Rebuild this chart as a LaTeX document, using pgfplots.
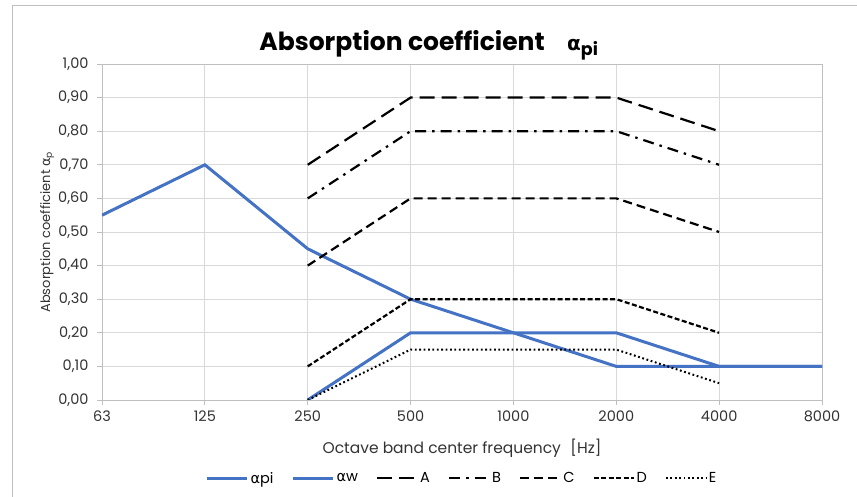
\documentclass[border=0pt]{standalone}
\usepackage{pgfplots}
\pgfplotsset{compat=1.18}
\usepackage{fontspec}
\setmainfont{Poppins}
\newfontfamily\gr{DejaVu Sans}
\definecolor{blu}{HTML}{4472C4}
\definecolor{grd}{HTML}{D9D9D9}
\definecolor{axc}{HTML}{BFBFBF}
\newcommand{\gap}{\rule{16pt}{0pt}}
\begin{document}
\begin{tikzpicture}
\begin{axis}[
  at={(0,0)}, anchor=south west,
  scale only axis, width=720pt, height=336pt,
  xmin=0, xmax=7, ymin=0, ymax=1,
  xtick={0,...,7},
  xticklabels={63,125,250,500,1000,2000,4000,8000},
  ytick={0,0.1,...,1.0},
  yticklabel style={xshift=-5pt, /pgf/number format/.cd, fixed, fixed zerofill, precision=2, use comma},
  /pgf/number format/assume math mode=true,
  ticklabel style={font=\fontsize{14.5}{16}\selectfont, text=black!80},
  xticklabel style={yshift=-2pt},
  grid=major, major grid style={grd, line width=0.9pt},
  axis line style={axc, line width=0.9pt},
  tick style={axc, line width=0.9pt},
  tick align=outside, major tick length=5pt,
  xtick pos=bottom, ytick pos=left,
  xlabel={Octave band center frequency\hspace{0.35em} [Hz]},
  ylabel={Absorption coefficient {\gr α}\textsubscript{p}},
  xlabel style={font=\fontsize{15.5}{17}\selectfont, text=black!80, yshift=-11pt},
  ylabel style={font=\fontsize{13}{15}\selectfont, text=black!80, yshift=-3pt},
  title={\textbf{Absorption coefficient}\hspace{0.9em}{\fontsize{20}{22}\selectfont\gr\bfseries α}\textsubscript{\textbf{pi}}},
  title style={font=\fontsize{25}{28}\selectfont, xshift=-33pt, yshift=-6pt},
  legend cell align=left,
  legend style={draw=none, at={(0.5,-0.233)}, anchor=center, font=\fontsize{14.5}{16}\selectfont,
    /tikz/every even column/.style={column sep=0pt},
    /tikz/every odd column/.style={column sep=0pt},
    nodes={inner xsep=2pt}, inner sep=0pt},
  legend columns=-1,
  legend image code/.code={\draw[#1] (0pt,0pt) -- (40pt,0pt);},
]
\addplot[blu, line width=3pt] coordinates {(0,0.55) (1,0.70) (2,0.45) (3,0.30) (4,0.20) (5,0.10) (6,0.10) (7,0.10)};
\addlegendentry{{\gr α}pi\gap}
\addplot[blu, line width=3pt] coordinates {(2,0.00) (3,0.20) (4,0.20) (5,0.20) (6,0.10) (7,0.10)};
\addlegendentry{{\gr α}w\gap}
\addplot[black, line width=2.2pt, dash pattern=on 15pt off 7pt] coordinates {(2,0.70) (3,0.90) (4,0.90) (5,0.90) (6,0.80)};
\addlegendentry{A\gap}
\addplot[black, line width=2.2pt, dash pattern=on 11pt off 6pt on 2.5pt off 6pt] coordinates {(2,0.60) (3,0.80) (4,0.80) (5,0.80) (6,0.70)};
\addlegendentry{B\gap}
\addplot[black, line width=2.2pt, dash pattern=on 9pt off 5pt] coordinates {(2,0.40) (3,0.60) (4,0.60) (5,0.60) (6,0.50)};
\addlegendentry{C\gap}
\addplot[black, line width=2.2pt, dash pattern=on 5pt off 2.5pt] coordinates {(2,0.10) (3,0.30) (4,0.30) (5,0.30) (6,0.20)};
\addlegendentry{D\gap}
\addplot[black, line width=2pt, dash pattern=on 1.8pt off 2.6pt] coordinates {(2,0.00) (3,0.15) (4,0.15) (5,0.15) (6,0.05)};
\addlegendentry{E}
\end{axis}
\useasboundingbox (-102pt,-97pt) rectangle (755pt,400pt);
\draw[axc, line width=0.8pt] (-90pt,-97pt) -- (-90pt,395pt) -- (755pt,395pt);
\end{tikzpicture}
\end{document}
